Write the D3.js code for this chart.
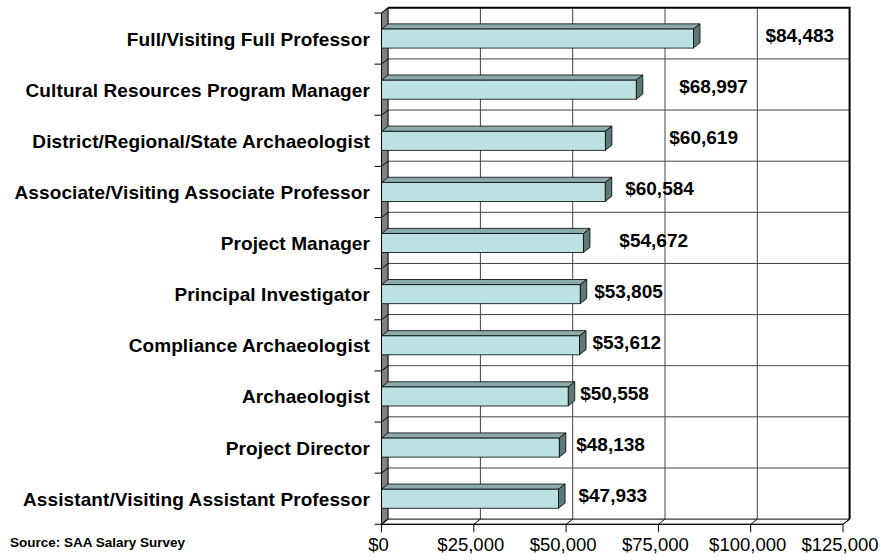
<!DOCTYPE html>
<html>
<head>
<meta charset="utf-8">
<script src="https://cdn.jsdelivr.net/npm/d3@7"></script>
<style>
  body { margin: 0; background: #fff; }
  svg { display: block; font-family: Arial, "Liberation Sans", sans-serif; }
</style>
</head>
<body>
<svg id="chart" width="881" height="560"></svg>
<script>
// SAA salary survey: mean salary by job title (3D bar look)

var titles = [
	"Full/Visiting Full Professor",
	"Cultural Resources Program Manager",
	"District/Regional/State Archaeologist",
	"Associate/Visiting Associate Professor",
	"Project Manager",
	"Principal Investigator",
	"Compliance Archaeologist",
	"Archaeologist",
	"Project Director",
	"Assistant/Visiting Assistant Professor"
];
var salaries = [84483, 68997, 60619, 60584, 54672, 53805, 53612, 50558, 48138, 47933];
var ticks = [0, 25000, 50000, 75000, 100000, 125000];
var source = "Source: SAA Salary Survey";

// where the data labels sit after the bar end (px), as placed in the original
var labelNudge = [72, 43, 64, 20, 36, 14, 13, 12, 17, 20];

var svg = d3.select("#chart");
var dx = 6.6, dy = -5.2;          // depth of the 3d walls / bars
var plotLeft = 381.5, plotRight = 843;    // front plane
var plotTop = 13, plotBottom = 524.3;

var x = d3.scaleLinear().domain([0, 125000]).range([plotLeft, plotRight]);
var y = d3.scaleBand().domain(titles).range([plotTop, plotBottom]);
var barH = 19;

var fmt = d3.format("$,");
function pts(a) { return a.map(p => p.join(",")).join(" "); }

// back wall
svg.append("rect")
	.attr("x", plotLeft + dx).attr("y", plotTop + dy)
	.attr("width", plotRight - plotLeft).attr("height", plotBottom - plotTop)
	.attr("fill", "#fff");

// back wall gridlines
var bounds = titles.map(t => y(t)).concat([plotBottom]);
svg.append("g").selectAll("line")
	.data(bounds.slice(1, -1))
	.enter().append("line")
	.attr("x1", plotLeft + dx).attr("x2", plotRight + dx)
	.attr("y1", d => d + dy).attr("y2", d => d + dy)
	.attr("stroke", "#444").attr("stroke-width", 1);
svg.append("g").selectAll("line")
	.data(ticks.slice(1, -1))
	.enter().append("line")
	.attr("x1", d => x(d) + dx).attr("x2", d => x(d) + dx)
	.attr("y1", plotTop + dy).attr("y2", plotBottom + dy)
	.attr("stroke", "#444").attr("stroke-width", 1);

// top and right border of the back wall
svg.append("polyline")
	.attr("points", pts([[plotLeft + dx, plotTop + dy], [plotRight + dx, plotTop + dy], [plotRight + dx, plotBottom + dy]]))
	.attr("fill", "none").attr("stroke", "#000").attr("stroke-width", 2);

// left wall
svg.append("polygon")
	.attr("points", pts([[plotLeft, plotTop], [plotLeft + dx, plotTop + dy], [plotLeft + dx, plotBottom + dy], [plotLeft, plotBottom]]))
	.attr("fill", "#808080").attr("stroke", "#000").attr("stroke-width", 1);
svg.append("g").selectAll("line")
	.data(bounds)
	.enter().append("line")
	.attr("x1", plotLeft).attr("y1", d => d)
	.attr("x2", plotLeft + dx).attr("y2", d => d + dy)
	.attr("stroke", "#000");

// floor
svg.append("polygon")
	.attr("points", pts([[plotLeft, plotBottom], [plotLeft + dx, plotBottom + dy], [plotRight + dx, plotBottom + dy], [plotRight, plotBottom]]))
	.attr("fill", "#fff").attr("stroke", "#000").attr("stroke-width", 1);
svg.append("g").selectAll("line")
	.data(ticks)
	.enter().append("line")
	.attr("x1", d => x(d)).attr("y1", plotBottom)
	.attr("x2", d => x(d) + dx).attr("y2", plotBottom + dy)
	.attr("stroke", "#000");

// bars
var bars = svg.append("g").selectAll("g")
	.data(titles)
	.enter().append("g");

bars.each(function(t, i) {
	var g = d3.select(this);
	var x0 = x(0), x1 = x(salaries[i]);
	var y0 = y(t) + (y.bandwidth() - barH) / 2, y1 = y0 + barH;
	g.append("polygon") // top
		.attr("points", pts([[x0, y0], [x0 + dx, y0 + dy], [x1 + dx, y0 + dy], [x1, y0]]))
		.attr("fill", "#8daaab").attr("stroke", "#000").attr("stroke-width", 0.8);
	g.append("polygon") // end
		.attr("points", pts([[x1, y0], [x1 + dx, y0 + dy], [x1 + dx, y1 + dy], [x1, y1]]))
		.attr("fill", "#5e7878").attr("stroke", "#000").attr("stroke-width", 0.8);
	g.append("rect") // front
		.attr("x", x0).attr("y", y0)
		.attr("width", x1 - x0).attr("height", barH)
		.attr("fill", "#bce1e3").attr("stroke", "#000").attr("stroke-width", 0.8);
});

// axes on the front plane
svg.append("line")
	.attr("x1", plotLeft).attr("x2", plotLeft).attr("y1", plotTop).attr("y2", plotBottom)
	.attr("stroke", "#000");
svg.append("line")
	.attr("x1", plotLeft).attr("x2", plotRight).attr("y1", plotBottom).attr("y2", plotBottom)
	.attr("stroke", "#000");
svg.append("g").selectAll("line")
	.data(bounds)
	.enter().append("line")
	.attr("x1", plotLeft - 7).attr("x2", plotLeft)
	.attr("y1", d => d).attr("y2", d => d)
	.attr("stroke", "#000");
svg.append("g").selectAll("line")
	.data(ticks)
	.enter().append("line")
	.attr("x1", d => x(d)).attr("x2", d => x(d))
	.attr("y1", plotBottom).attr("y2", plotBottom + 8)
	.attr("stroke", "#000");

// category labels
svg.append("g").selectAll("text")
	.data(titles)
	.enter().append("text")
	.attr("x", 370)
	.attr("y", t => y(t) + y.bandwidth() / 2 + 7)
	.attr("text-anchor", "end")
	.attr("font-size", 19).attr("font-weight", "bold")
	.attr("letter-spacing", 0.1)
	.text(t => t);

// value tick labels
svg.append("g").selectAll("text")
	.data(ticks)
	.enter().append("text")
	.attr("x", d => x(d) - 3)
	.attr("y", 551)
	.attr("text-anchor", "middle")
	.attr("font-size", 18.5)
	.text(d => fmt(d));

// data labels
svg.append("g").selectAll("text")
	.data(titles)
	.enter().append("text")
	.attr("x", (t, i) => x(salaries[i]) + labelNudge[i])
	.attr("y", t => y(t) + y.bandwidth() / 2 + 3.5)
	.attr("font-size", 19).attr("font-weight", "bold")
	.text((t, i) => fmt(salaries[i]));

svg.append("text")
	.attr("x", 10).attr("y", 547)
	.attr("font-size", 13.5).attr("font-weight", "bold")
	.text(source);
</script>
</body>
</html>
